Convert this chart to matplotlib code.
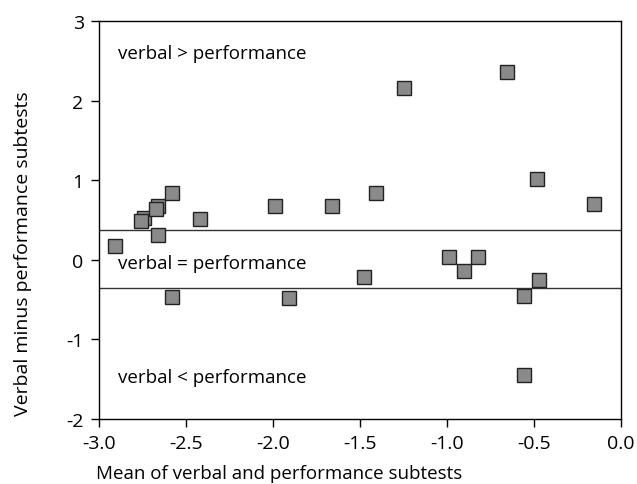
import matplotlib
matplotlib.use('Agg')
import matplotlib.pyplot as plt

# Mean and difference of verbal / performance subtest scores
mean_scores = [-2.91, -2.74, -2.76, -2.66, -2.67, -2.66, -2.58, -2.58, -2.42,
               -1.99, -1.91, -1.66, -1.48, -1.41, -1.25, -0.99, -0.905, -0.82,
               -0.655, -0.56, -0.555, -0.485, -0.47, -0.155]
diff_scores = [0.17, 0.52, 0.49, 0.67, 0.64, 0.31, 0.84, -0.47, 0.51,
               0.67, -0.48, 0.68, -0.22, 0.84, 2.16, 0.03, -0.14, 0.04,
               2.36, -0.45, -1.45, 1.02, -0.25, 0.70]

# band of agreement
upper_limit = 0.38
lower_limit = -0.35

x_ticks = [-3.0, -2.5, -2.0, -1.5, -1.0, -0.5, 0.0]
y_ticks = [-2, -1, 0, 1, 2, 3]

plt.rcParams['font.family'] = ['Open Sans', 'DejaVu Sans']

fig = plt.figure(figsize=(6.37, 4.85), dpi=100)
ax = fig.add_axes([0.1554, 0.134, 0.8196, 0.8206])

ax.axhline(upper_limit, color='#333333', linewidth=1.0, zorder=1)
ax.axhline(lower_limit, color='#333333', linewidth=1.0, zorder=1)

ax.plot(mean_scores, diff_scores, linestyle='none', marker='s', markersize=9.5,
        markerfacecolor='#8a8a8a', markeredgecolor='#222222',
        markeredgewidth=1.0, zorder=3)

ax.text(-2.89, 2.6, 'verbal > performance', fontsize=13.5, va='center')
ax.text(-2.89, -0.04, 'verbal = performance', fontsize=13.5, va='center')
ax.text(-2.89, -1.47, 'verbal < performance', fontsize=13.5, va='center')

ax.set_xlim(-3.0, 0.0)
ax.set_ylim(-2, 3)
ax.set_xticks(x_ticks)
ax.set_xticklabels(['%.1f' % t for t in x_ticks])
ax.set_yticks(y_ticks)
ax.set_yticklabels([str(t) for t in y_ticks])

ax.tick_params(direction='out', length=6, width=1.0, pad=5,
               labelsize=14, top=False, right=False)
for spine in ax.spines.values():
    spine.set_linewidth(1.0)

ax.set_xlabel('Mean of verbal and performance subtests', fontsize=13.5)
ax.set_ylabel('Verbal minus performance subtests', fontsize=14)
ax.xaxis.set_label_coords(0.345, -0.112)
ax.yaxis.set_label_coords(-0.128, 0.417)

fig.savefig('out.png', dpi=100)
